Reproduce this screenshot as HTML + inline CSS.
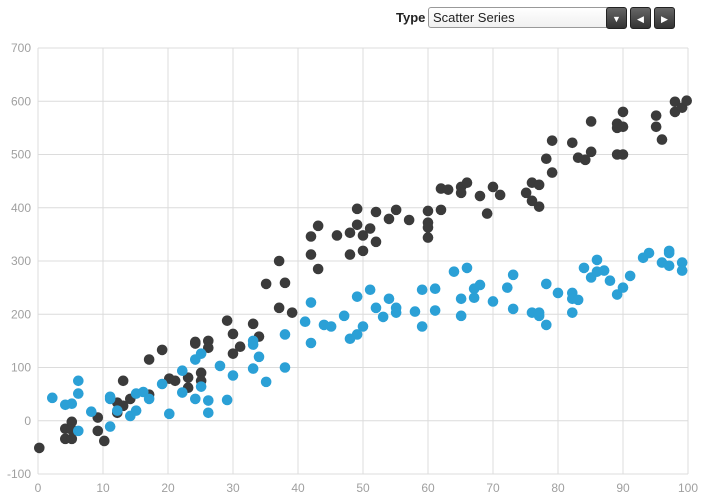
<!DOCTYPE html>
<html><head><meta charset="utf-8"><style>
body{margin:0;width:705px;height:500px;background:#fff;font-family:"Liberation Sans",sans-serif;overflow:hidden;position:relative}
.lbl{position:absolute;left:396px;top:10px;font-weight:bold;font-size:13px;color:#222}
.sel{position:absolute;left:428px;top:7px;width:197px;height:21px;border:1px solid #999;border-radius:3px;background:linear-gradient(#fff,#f0f0f0);font-size:13px;color:#222;box-sizing:border-box}
.sel span{position:absolute;left:4px;top:2px}
.btn{position:absolute;top:7px;height:22px;background:linear-gradient(#666,#333);border-radius:3px;color:#fff;font-size:9px;text-align:center;line-height:22px;box-sizing:border-box;border:1px solid #222}
</style></head><body>
<div class="lbl">Type</div>
<div class="sel"><span>Scatter Series</span></div>
<div class="btn" style="left:606px;width:21px">▼</div>
<div class="btn" style="left:630px;width:21px">◀</div>
<div class="btn" style="left:654px;width:21px">▶</div>
<svg id="chart" width="705" height="500" style="position:absolute;left:0;top:0"></svg>
<script>
const xTicks=[0,10,20,30,40,50,60,70,80,90,100];
const yTicks=[-100,0,100,200,300,400,500,600,700];
const darkX=[0.2,4.2,5.2,5.2,4.2,5.2,9.2,9.2,10.2,12.2,13.1,12.2,14.2,13.1,17.1,17.1,19.1,20.2,21.1,23.1,23.1,24.2,24.2,25.1,25.1,26.2,26.2,29.1,30,31.1,30,33.1,34,35.1,37.1,38,37.1,39.1,42,43.1,42,43.1,46,48,49.1,49.1,50,51.1,52,52,48,50,54,55.1,57.1,60,60,60,60,62,62,63.1,65.1,65.1,66,68,69.1,70,71.1,75.1,76,77.1,76,77.1,78.2,79.1,79.1,82.2,83.1,84.2,85.1,85.1,89.1,89.1,90,90,89.1,90,95.1,95.1,96,98,98,99.1,99.8];
const darkY=[-51,-15,-2,-17,-34,-34,6,-19,-38,34,28,15,41,75,49,115,133,79,75,81,62,148,145,90,75,150,137,188,163,139,126,182,158,257,300,259,212,203,346,366,312,285,348,353,398,368,348,361,392,336,312,319,379,396,377,394,372,363,344,396,436,434,439,428,447,422,389,439,424,428,447,443,413,402,492,526,466,522,494,490,505,562,558,550,552,580,500,500,573,552,528,599,580,588,601];
const blueX=[2.2,4.2,5.2,6.2,6.2,6.2,8.2,11.1,11.1,12.2,14.2,15.1,15.1,16.2,17.1,11.1,19.1,20.2,22.2,22.2,24.2,24.2,25.1,25.1,26.2,26.2,28,29.1,30,33.1,33.1,33.1,34,35.1,38,38,41.1,42,42,44,45.1,47.1,48,49.1,49.1,50,51.1,52,53.1,54,55.1,55.1,58,59.1,59.1,61.1,61.1,64,65.1,65.1,66,67.1,67.1,68,70,72.2,73.1,73.1,76,77.1,77.1,78.2,78.2,80,82.2,82.2,83.1,82.2,84,85.1,86,86,87.1,88,89.1,90,91.1,93.1,94,96,97.1,97.1,97.1,99.1,99.1];
const blueY=[43,30,32,75,51,-19,17,45,41,19,9,19,51,54,41,-11,69,13,94,53,115,41,126,64,38,15,103,39,85,150,143,98,120,73,162,100,186,222,146,180,177,197,154,233,162,177,246,212,195,229,212,203,205,246,177,248,207,280,229,197,287,248,231,255,224,250,274,210,203,203,197,257,180,240,240,229,227,203,287,269,302,280,282,263,237,250,272,306,315,297,319,315,291,297,282];
const X0=38,X1=688,Y0=474,Y1=48;
const sx=v=>X0+(v-0)/(100-0)*(X1-X0);
const sy=v=>Y0-(v+100)/800*(Y0-Y1);
const svg=document.getElementById('chart');
const NS='http://www.w3.org/2000/svg';
function mk(t,a){const e=document.createElementNS(NS,t);for(const k in a)e.setAttribute(k,a[k]);svg.appendChild(e);return e;}
yTicks.forEach(v=>{
 const l=mk('line',{x1:X0,x2:X1,y1:sy(v),y2:sy(v),stroke:'#dcdcdc','stroke-width':1});
 
 
 const t=mk('text',{x:31,y:sy(v)+4,'text-anchor':'end','font-size':12,fill:'#a0a0a0','font-family':'Liberation Sans'});
 t.textContent=v;
 
 
});
xTicks.forEach(v=>{
 const l=mk('line',{x1:sx(v),x2:sx(v),y1:Y1,y2:Y0,stroke:'#dcdcdc','stroke-width':1});
 
 
 const t=mk('text',{x:sx(v),y:492,'text-anchor':'middle','font-size':12,fill:'#a0a0a0','font-family':'Liberation Sans'});
 t.textContent=v;
 
 
});
darkX.forEach((v,i)=>{
 const c=mk('circle',{cx:sx(v),cy:sy(darkY[i]),r:5.3,fill:'#3b3b3b'});
 
 
});
blueX.forEach((v,i)=>{
 const c=mk('circle',{cx:sx(v),cy:sy(blueY[i]),r:5.3,fill:'#2ba0d6'});
 
 
});
</script>
</body></html>
